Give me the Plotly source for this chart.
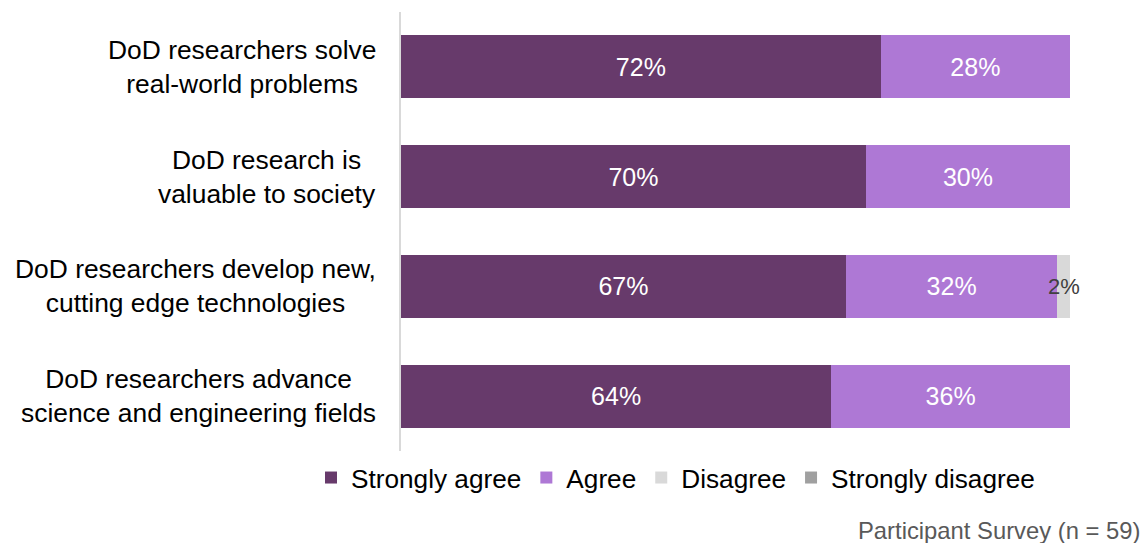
import plotly.graph_objects as go

categories = [
    "DoD researchers solve<br>real-world problems",
    "DoD research is<br>valuable to society",
    "DoD researchers develop new,<br>cutting edge technologies",
    "DoD researchers advance<br>science and engineering fields",
]
strongly_agree = [71.7, 69.5, 66.5, 64.3]
agree = [28.3, 30.5, 31.6, 35.7]
disagree = [0, 0, 1.9, 0]
strongly_disagree = [0, 0, 0, 0]

sa_labels = ["72%", "70%", "67%", "64%"]
ag_labels = ["28%", "30%", "32%", "36%"]
dis_labels = ["", "", "2%", ""]

series_names = ["Strongly agree", "Agree", "Disagree", "Strongly disagree"]
colors = ["#673A6B", "#AE78D5", "#D9D9D9", "#A0A0A0"]

FONT = "Liberation Sans, Arial, sans-serif"
ids = list(range(len(categories)))

fig = go.Figure()
fig.add_trace(go.Bar(
    y=ids, x=strongly_agree, orientation="h", name=series_names[0],
    marker=dict(color=colors[0], line=dict(width=0)),
    text=sa_labels, textposition="inside", insidetextanchor="middle",
    textfont=dict(color="white", size=25, family=FONT), hoverinfo="skip"))
fig.add_trace(go.Bar(
    y=ids, x=agree, orientation="h", name=series_names[1],
    marker=dict(color=colors[1], line=dict(width=0)),
    text=ag_labels, textposition="inside", insidetextanchor="middle",
    textfont=dict(color="white", size=25, family=FONT), hoverinfo="skip"))
fig.add_trace(go.Bar(
    y=ids, x=disagree, orientation="h", name=series_names[2],
    marker=dict(color=colors[2], line=dict(width=0)),
    textposition="none", hoverinfo="skip"))
fig.add_trace(go.Bar(
    y=ids, x=strongly_disagree, orientation="h", name=series_names[3],
    marker=dict(color=colors[3], line=dict(width=0)),
    textposition="none", hoverinfo="skip"))

annotations = []
for i, cat in enumerate(categories):
    annotations.append(dict(
        x=0, y=i, xref="paper", yref="y", text=cat, showarrow=False,
        xanchor="right", yanchor="middle", align="center", xshift=-23,
        font=dict(size=26.4, color="#000000", family=FONT)))
for i, lab in enumerate(dis_labels):
    if lab:
        annotations.append(dict(
            x=strongly_agree[i] + agree[i] + disagree[i] / 2, y=i,
            xref="x", yref="y", text=lab, showarrow=False,
            xanchor="center", yanchor="middle",
            font=dict(size=22, color="#404040", family=FONT)))
annotations.append(dict(
    x=1.108, y=-0.182, xref="paper", yref="paper",
    text="Participant Survey (n = 59)", showarrow=False,
    xanchor="right", yanchor="middle",
    font=dict(size=23.8, color="#595959", family=FONT)))

fig.update_layout(
    width=1142, height=543,
    margin=dict(l=401, r=72, t=12, b=92),
    barmode="stack", bargap=0.427,
    plot_bgcolor="white", paper_bgcolor="white",
    font=dict(family=FONT, color="#000000"),
    showlegend=True,
    legend=dict(orientation="h", x=-0.1345, xanchor="left",
                y=-0.0615, yanchor="middle",
                traceorder="normal", tracegroupgap=0,
                font=dict(size=26.2, family=FONT, color="#000000"),
                itemclick=False, itemdoubleclick=False),
    annotations=annotations,
    uniformtext=dict(mode=False),
)
fig.update_xaxes(range=[0, 100], showgrid=False, zeroline=False,
                 showticklabels=False, showline=False, fixedrange=True)
fig.update_yaxes(autorange="reversed", showgrid=False, zeroline=False,
                 showticklabels=False, showline=True, linecolor="#D9D9D9",
                 linewidth=2, ticks="", fixedrange=True)

fig.write_html("out.html")
